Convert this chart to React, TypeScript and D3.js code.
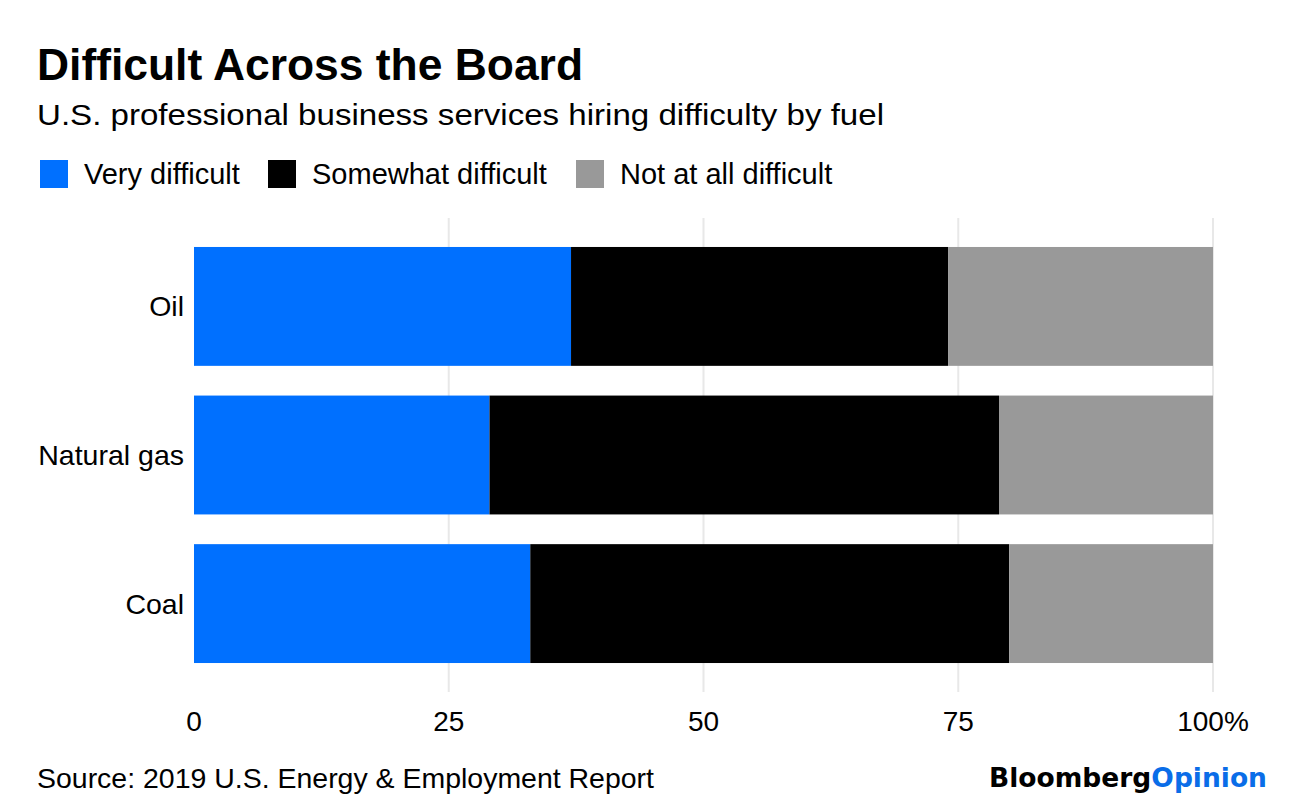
import React from "react";
import * as d3 from "d3";

const categories = ["Oil", "Natural gas", "Coal"];
const seriesNames = ["Very difficult", "Somewhat difficult", "Not at all difficult"];
const veryDifficult = [37, 29, 33];
const somewhatDifficult = [37, 50, 47];
const notAtAllDifficult = [26, 21, 20];
const tickValues = [0, 25, 50, 75, 100];
const gridValues = [25, 50, 75, 100];
const seriesColors = ["#0070ff", "#000000", "#999999"];

const W = 1296;
const H = 810;
const FONT = "'Liberation Sans', Arial, Helvetica, sans-serif";

export default function App() {
  const rows = categories.map((c, i) => ({
    cat: c,
    s0: veryDifficult[i],
    s1: somewhatDifficult[i],
    s2: notAtAllDifficult[i],
  }));
  const stack = d3.stack<any>().keys(["s0", "s1", "s2"]);
  const layers = stack(rows);

  const x = d3.scaleLinear().domain([0, 100]).range([194, 1213]);
  const y = d3
    .scaleBand<string>()
    .domain(categories)
    .range([218, 692])
    .paddingInner(0.2)
    .paddingOuter(0.195);

  const legendX = [40, 268, 576];

  return (
    <svg
      width={W}
      height={H}
      viewBox={`0 0 ${W} ${H}`}
      style={{ position: "absolute", left: 0, top: 0, background: "#fff" }}
      fontFamily={FONT}
    >
      <rect x={0} y={0} width={W} height={H} fill="#fff" />
      <text x={37} y={80} fontSize={44} fontWeight="bold" fill="#000" textLength={546} lengthAdjust="spacingAndGlyphs">
        Difficult Across the Board
      </text>
      <text x={37} y={125} fontSize={30} fill="#000" textLength={847} lengthAdjust="spacingAndGlyphs">
        U.S. professional business services hiring difficulty by fuel
      </text>

      {seriesNames.map((n, i) => (
        <g key={n}>
          <rect x={legendX[i]} y={160} width={28} height={28} fill={seriesColors[i]} />
          <text x={legendX[i] + 44} y={184} fontSize={29} fill="#000">
            {n}
          </text>
        </g>
      ))}

      {gridValues.map((v) => (
        <line key={v} x1={x(v)} x2={x(v)} y1={218} y2={692} stroke="#e8e8e8" strokeWidth={2} />
      ))}

      {layers.map((layer, li) => (
        <g key={li} fill={seriesColors[li]}>
          {layer.map((d: any, i: number) => (
            <rect
              key={i}
              x={x(d[0])}
              y={y(d.data.cat)}
              width={x(d[1]) - x(d[0])}
              height={y.bandwidth()}
            />
          ))}
        </g>
      ))}

      {categories.map((c) => (
        <text
          key={c}
          x={184}
          y={(y(c) as number) + y.bandwidth() / 2 + 10}
          fontSize={28.5}
          textAnchor="end"
          fill="#000"
        >
          {c}
        </text>
      ))}

      {tickValues.map((v) => (
        <text key={v} x={x(v)} y={731} fontSize={28} textAnchor="middle" fill="#000">
          {v === 100 ? "100%" : String(v)}
        </text>
      ))}

      <text x={37} y={788} fontSize={28} fill="#000" textLength={617} lengthAdjust="spacingAndGlyphs">
        Source: 2019 U.S. Energy &amp; Employment Report
      </text>

      <text
        x={989}
        y={787}
        fontSize={27}
        fontWeight="bold"
        fontFamily="'DejaVu Sans', sans-serif"
        textLength={278}
        lengthAdjust="spacingAndGlyphs"
      >
        <tspan fill="#000">Bloomberg</tspan>
        <tspan fill="#0a6de8">Opinion</tspan>
      </text>
    </svg>
  );
}
